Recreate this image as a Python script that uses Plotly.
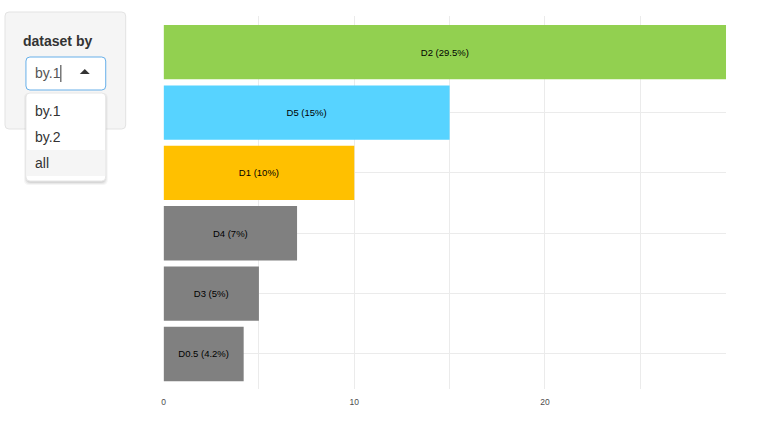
import plotly.graph_objects as go

# ---- data ----
categories = ["D0.5", "D3", "D4", "D1", "D5", "D2"]
values = [4.2, 5, 7, 10, 15, 29.5]
bar_colors = ["#808080", "#808080", "#808080", "#FFC000", "#57D3FF", "#92D050"]
tick_vals = [0, 5, 10, 15, 20, 25]
tick_text = ["0", "", "10", "", "20", ""]
menu_label = "dataset by"
menu_selected = "by.1"
menu_options = ["by.1", "by.2", "all"]

bar_text = [f"{c} ({v:g}%)" for c, v in zip(categories, values)]

W, H = 769, 431
FONT = "Liberation Sans, Arial, Helvetica, sans-serif"


def px(x):
    return x / W


def py(y):
    return 1 - y / H


fig = go.Figure(
    go.Bar(
        x=values,
        y=categories,
        orientation="h",
        marker=dict(color=bar_colors, line=dict(width=0)),
        text=bar_text,
        textposition="inside",
        insidetextanchor="middle",
        constraintext="none",
        textfont=dict(family=FONT, size=9.5, color="#000000"),
        hoverinfo="none",
    )
)


def rrect(x0, y0, x1, y1, r):
    X0, X1 = px(x0), px(x1)
    Y0, Y1 = py(y0), py(y1)
    rx, ry = r / W, r / H
    return (
        f"M {X0+rx},{Y0} L {X1-rx},{Y0} Q {X1},{Y0} {X1},{Y0-ry} "
        f"L {X1},{Y1+ry} Q {X1},{Y1} {X1-rx},{Y1} L {X0+rx},{Y1} "
        f"Q {X0},{Y1} {X0},{Y1+ry} L {X0},{Y0-ry} Q {X0},{Y0} {X0+rx},{Y0} Z"
    )


shapes = []
# sidebar well
shapes.append(dict(type="path", xref="paper", yref="paper", path=rrect(3, 12, 124, 129, 4),
                   fillcolor="#f5f5f5", line=dict(color="#e3e3e3", width=1), layer="above"))
# select box
shapes.append(dict(type="path", xref="paper", yref="paper", path=rrect(24, 57, 104, 90, 4),
                   fillcolor="#ffffff", line=dict(color="#66afe9", width=1), layer="above"))
# cursor
shapes.append(dict(type="line", xref="paper", yref="paper", x0=px(59), x1=px(59), y0=py(65), y1=py(82),
                   line=dict(color="#333333", width=1), layer="above"))
# caret triangle
shapes.append(dict(type="path", xref="paper", yref="paper",
                   path=f"M {px(78)},{py(74)} L {px(88)},{py(74)} L {px(83)},{py(69)} Z",
                   fillcolor="#333333", line=dict(width=0), layer="above"))
# dropdown shadow
for i, a in enumerate([0.04, 0.05, 0.07]):
    o = 3 - i
    shapes.append(dict(type="path", xref="paper", yref="paper",
                       path=rrect(24 - o + 1, 93 - o + 3, 104 + o - 1, 181 + o + 1, 5),
                       fillcolor=f"rgba(0,0,0,{a})", line=dict(width=0), layer="above"))
# dropdown
shapes.append(dict(type="path", xref="paper", yref="paper", path=rrect(24, 93, 104, 181, 4),
                   fillcolor="#ffffff", line=dict(color="#e6e6e6", width=1), layer="above"))
# highlighted option
shapes.append(dict(type="rect", xref="paper", yref="paper", x0=px(24.5), x1=px(103.5), y0=py(150), y1=py(176),
                   fillcolor="#f5f5f5", line=dict(width=0), layer="above"))

annotations = [
    dict(text=f"<b>{menu_label}</b>", x=px(19.5), y=py(41), xref="paper", yref="paper",
         xanchor="left", yanchor="middle", showarrow=False,
         font=dict(family=FONT, size=14, color="#333333")),
    dict(text=menu_selected, x=px(31.5), y=py(73), xref="paper", yref="paper",
         xanchor="left", yanchor="middle", showarrow=False,
         font=dict(family=FONT, size=14, color="#555555")),
]
for i, opt in enumerate(menu_options):
    annotations.append(dict(text=opt, x=px(31.5), y=py(111 + 26 * i), xref="paper", yref="paper",
                            xanchor="left", yanchor="middle", showarrow=False,
                            font=dict(family=FONT, size=14, color="#333333")))

fig.update_layout(
    width=W,
    height=H,
    margin=dict(l=0, r=0, t=0, b=0),
    paper_bgcolor="#ffffff",
    plot_bgcolor="#ffffff",
    showlegend=False,
    bargap=0.1,
    xaxis=dict(
        domain=[px(162), px(726)],
        range=[0, 29.5],
        tickvals=tick_vals,
        ticktext=tick_text,
        showgrid=True,
        gridcolor="#ebebeb",
        gridwidth=1,
        zeroline=False,
        showline=False,
        ticks="",
        ticklabelstandoff=6,
        tickfont=dict(family=FONT, size=8.5, color="#4d4d4d"),
        fixedrange=True,
    ),
    yaxis=dict(
        domain=[py(389), py(16)],
        range=[-0.58, 5.6],
        showticklabels=False,
        showgrid=True,
        gridcolor="#ebebeb",
        gridwidth=1,
        zeroline=False,
        showline=False,
        ticks="",
        fixedrange=True,
    ),
    shapes=shapes,
    annotations=annotations,
    font=dict(family=FONT),
)

fig.write_html("out.html", config=dict(displayModeBar=False))
